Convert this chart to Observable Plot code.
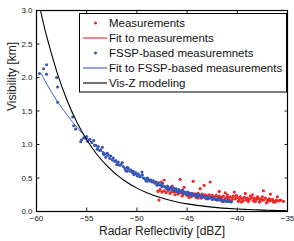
<!DOCTYPE html>
<html>
<head>
<meta charset="utf-8">
<script src="https://cdn.jsdelivr.net/npm/d3@7"></script>
<script src="https://cdn.jsdelivr.net/npm/@observablehq/plot@0.6"></script>
<style>
  html, body { margin: 0; padding: 0; background: #fff; }
  #chart { position: relative; width: 294px; height: 241px; }
</style>
</head>
<body>
<div id="chart"></div>
<script>
// ---- data ----
const xTicks = [-60, -55, -50, -45, -40, -35];
const yTicks = [0, 0.5, 1, 1.5, 2, 2.5, 3];
const legendLabels = ["Measurements", "Fit to measurements", "FSSP-based measuremnets", "Fit to FSSP-based measurements", "Vis-Z modeling"];

// Red: measurements
const redX = [-47.3,-47.6,-45.7,-44.4,-42.7,-43.3,-43.7,-46.5,-45.3,-41.8,-40.3,-37.4,-36.7,-47.8,-39.2,-38.5,-41.2,-36.0,
  -47.9,-47.7,-47.5,-47.3,-47.1,-46.9,-46.7,-46.5,-46.3,-46.1,-45.9,-45.8,-45.6,-45.4,-45.2,-45.1,-44.9,-44.7,-44.5,-44.4,
  -44.2,-44.0,-43.9,-43.7,-43.5,-43.3,-43.2,-43.0,-42.8,-42.6,-42.5,-42.3,-42.1,-41.9,-41.8,-41.6,-41.4,-41.2,-41.0,-40.9,
  -40.7,-40.5,-40.4,-40.2,-40.0,-39.8,-39.7,-39.5,-39.3,-39.1,-39.0,-38.8,-38.6,-38.4,-38.3,-38.1,-37.9,-37.7,-37.6,-37.4,
  -37.2,-37.0,-36.9,-36.7,-36.5,-36.3,-36.1,-35.9,-35.4,-44.8,-43.9,-42.9,-41.5,-40.6,-39.6,-38.9,-37.8,-37.1,-36.4,
  -45.0,-44.6,-44.1,-43.6,-43.1,-42.4,-42.0,-41.3,-40.8,-40.1,-39.4,-38.7,-38.2,-37.5,-36.8,-36.2,-35.7,-46.2,-45.5,-41.0,-39.9,-38.0];
const redY = [0.47,0.44,0.48,0.45,0.44,0.39,0.34,0.38,0.36,0.30,0.29,0.31,0.26,0.17,0.27,0.25,0.28,0.22,
  0.30,0.33,0.29,0.31,0.28,0.32,0.27,0.30,0.29,0.31,0.26,0.29,0.28,0.25,0.29,0.26,0.28,0.25,0.27,0.24,
  0.26,0.23,0.27,0.24,0.26,0.22,0.25,0.23,0.25,0.21,0.24,0.22,0.24,0.20,0.23,0.21,0.23,0.19,0.22,0.20,
  0.22,0.18,0.23,0.19,0.21,0.17,0.22,0.19,0.21,0.17,0.20,0.18,0.21,0.16,0.20,0.18,0.20,0.16,0.19,0.17,
  0.20,0.15,0.18,0.16,0.18,0.15,0.17,0.16,0.15,0.21,0.20,0.19,0.15,0.16,0.14,0.15,0.14,0.13,0.14,
  0.24,0.22,0.21,0.20,0.19,0.19,0.18,0.17,0.17,0.24,0.16,0.23,0.15,0.22,0.19,0.14,0.17,0.25,0.23,0.25,0.15,0.22];

// Red: fit to measurements
const redFitX = [-48, -46, -44, -42, -40, -38, -36, -35.4];
const redFitY = [0.31, 0.28, 0.25, 0.22, 0.20, 0.18, 0.16, 0.155];

// Blue: FSSP-based measurements
const blueX = [-59.7,-59.3,-59.0,-59.0,-58.0,-57.9,-57.9,-56.4,-56.3,-56.1,-55.6,-55.5,-55.3,-55.1,-55.0,-54.9,-54.7,-54.5,-54.3,-54.2,
  -54.1,-53.95,-53.85,-53.7,-53.6,-53.45,-53.35,-53.2,-53.1,-52.95,-52.85,-52.7,-52.6,-52.45,-52.35,-52.2,
  -52.1,-51.95,-51.85,-51.7,-51.6,-51.45,-51.35,-51.2,-51.1,-50.95,-50.85,-50.7,-50.6,-50.45,-50.35,-50.2,
  -50.1,-49.95,-49.85,-49.7,-49.5,-49.6,-49.45,-49.35,-49.2,-49.1,-48.95,-48.85,-48.7,-48.6,-48.45,-48.35,-48.2,
  -48.1,-47.95,-47.85,-47.7,-47.6,-47.45,-47.35,-47.2,-47.1,-46.95,-46.85,-46.7,-46.6,-46.45,-46.35,-46.2,
  -46.1,-45.95,-45.85,-45.7,-45.6,-45.45,-45.35,-45.2,-45.1,-44.95,-44.85,-44.7,-44.6,-44.45,-44.35,-44.2,
  -44.1,-43.95,-43.85,-43.7,-43.6,-43.45,-43.35,-43.2,-43.1,-42.95,-42.85,-42.7,-42.6,-42.45,-42.35,-42.2,
  -42.1,-41.95,-41.85,-41.7,-41.6,-41.45,-41.35,-41.2,-41.1,-40.95,-40.8,-40.6,
  -53.3,-52.0,-51.0,-50.3,-49.0,-48.0,-47.0,-46.0,-45.0,-44.0,-43.0,-42.0,-41.4,
  -47.5,-46.8,-46.3,-45.8,-45.4,-44.9,-44.5,-44.0,-43.5,-43.0,-42.5,-41.9,-41.3,-40.9];
const blueY = [2.06,2.13,2.19,2.05,2.00,1.86,1.63,1.41,1.28,1.23,1.04,1.07,1.10,1.09,1.12,1.05,1.08,1.03,1.06,0.99,
  0.99,0.93,0.97,0.91,0.92,0.96,0.88,0.86,0.81,0.87,0.84,0.79,0.83,0.77,0.80,0.75,
  0.76,0.70,0.74,0.69,0.70,0.73,0.67,0.64,0.61,0.66,0.64,0.60,0.62,0.58,0.60,0.56,
  0.58,0.53,0.56,0.52,0.59,0.53,0.55,0.50,0.49,0.46,0.50,0.48,0.45,0.47,0.44,0.46,0.42,
  0.44,0.40,0.43,0.39,0.40,0.42,0.38,0.37,0.35,0.38,0.36,0.34,0.36,0.33,0.35,0.32,
  0.34,0.30,0.33,0.30,0.31,0.32,0.29,0.28,0.27,0.29,0.28,0.26,0.27,0.25,0.26,0.24,
  0.26,0.23,0.25,0.23,0.23,0.24,0.22,0.21,0.20,0.22,0.21,0.20,0.21,0.19,0.20,0.18,
  0.19,0.17,0.19,0.17,0.18,0.17,0.16,0.16,0.15,0.17,0.15,0.14,
  0.85,0.70,0.60,0.55,0.45,0.39,0.34,0.29,0.26,0.22,0.19,0.17,0.15,
  0.37,0.33,0.31,0.29,0.27,0.25,0.24,0.22,0.21,0.20,0.18,0.18,0.16,0.15];

// Blue: fit to FSSP-based measurements
const blueFitX = [-59.5,-59,-58,-57,-56,-55,-54,-53,-52,-51,-50,-49,-48,-47,-46,-45,-44,-43,-42,-41,-40.5];
const blueFitY = [2.05,1.91,1.66,1.45,1.26,1.10,0.96,0.835,0.727,0.633,0.55,0.48,0.418,0.364,0.317,0.276,0.240,0.209,0.182,0.159,0.148];

// Black: Vis-Z modeling
const visZX = [-59.6,-59,-58,-57,-56,-55,-54,-53,-52,-51,-50,-49,-48,-47,-46,-45,-44,-43,-42,-41,-40,-39,-38,-37,-36,-35];
const visZY = [3.0,2.62,2.10,1.675,1.34,1.07,0.855,0.684,0.547,0.437,0.349,0.279,0.223,0.178,0.142,0.114,0.091,0.073,0.058,0.046,0.037,0.030,0.024,0.019,0.015,0.012];

// ---- build tables ----
const red = redX.map((x, i) => ({x, y: redY[i]}));
const redFit = redFitX.map((x, i) => ({x, y: redFitY[i]}));
const blue = blueX.map((x, i) => ({x, y: blueY[i]}));
const blueFit = blueFitX.map((x, i) => ({x, y: blueFitY[i]}));
const visZ = visZX.map((x, i) => ({x, y: visZY[i]}));

const RED = "#ee2a2a", BLUE = "#3553ad", BLUELINE = "#3a5fc8", REDLINE = "#e8262a";
const FONT = "'Liberation Sans', Arial, Helvetica, sans-serif";

const plot = Plot.plot({
  width: 294,
  height: 241,
  marginLeft: 36,
  marginRight: 7,
  marginTop: 10,
  marginBottom: 30,
  style: {fontFamily: FONT, fontSize: "8px", color: "#222", background: "#fff"},
  x: {domain: [-60, -35], ticks: xTicks},
  y: {domain: [0, 3], ticks: yTicks},
  marks: [
    Plot.dot(red, {x: "x", y: "y", r: 1.6, fill: RED, stroke: "none"}),
    Plot.line(redFit, {x: "x", y: "y", stroke: REDLINE, strokeWidth: 1, curve: "natural"}),
    Plot.dot(blue, {x: "x", y: "y", r: 1.5, fill: BLUE, stroke: "none"}),
    Plot.line(blueFit, {x: "x", y: "y", stroke: BLUELINE, strokeWidth: 1, curve: "natural"}),
    Plot.line(visZ, {x: "x", y: "y", stroke: "#000", strokeWidth: 1.1, curve: "natural", clip: true}),
    // labels
    Plot.axisX({ticks: xTicks, tickSize: 0, tickPadding: 4, label: null, fontSize: 8}),
    Plot.axisY({ticks: yTicks, tickSize: 0, tickPadding: 4, label: null, fontSize: 8}),
    // inward ticks on all four sides
    Plot.axisX({ticks: xTicks, anchor: "bottom", tickSize: 3.5, dy: -3.5, tickFormat: () => "", label: null}),
    Plot.axisX({ticks: xTicks, anchor: "top", tickSize: 3.5, dy: 3.5, tickFormat: () => "", label: null}),
    Plot.axisY({ticks: yTicks, anchor: "left", tickSize: 3.5, dx: 3.5, tickFormat: () => "", label: null}),
    Plot.axisY({ticks: yTicks, anchor: "right", tickSize: 3.5, dx: -3.5, tickFormat: () => "", label: null}),
    Plot.frame({stroke: "#000", strokeWidth: 1.2}),
    Plot.text(["Radar Reflectivity [dBZ]"], {frameAnchor: "bottom", dy: 20, lineAnchor: "middle", text: d => d, fontSize: 12, fill: "#222"}),
    Plot.text(["Visibility [km]"], {frameAnchor: "left", dx: -24, rotate: -90, lineAnchor: "middle", text: d => d, fontSize: 12, fill: "#222"})
  ]
});

document.getElementById("chart").appendChild(plot);

// ---- legend drawn in the plot's SVG ----
const svg = d3.select(plot);
const lg = svg.append("g").attr("font-family", FONT).attr("font-size", 11.5).attr("text-anchor", "start");
lg.append("rect").attr("x", 79.5).attr("y", 13.5).attr("width", 207).attr("height", 78.5)
  .attr("fill", "#fff").attr("stroke", "#000").attr("stroke-width", 1);
const entries = [
  {type: "dot", color: RED},
  {type: "line", color: REDLINE},
  {type: "dot", color: BLUE},
  {type: "line", color: BLUELINE},
  {type: "line", color: "#000"}
];
entries.forEach((e, i) => {
  const cy = 23 + i * 15;
  if (e.type === "dot") {
    lg.append("circle").attr("cx", 95.5).attr("cy", cy).attr("r", 1.5).attr("fill", e.color);
  } else {
    lg.append("line").attr("x1", 83).attr("x2", 107).attr("y1", cy).attr("y2", cy)
      .attr("stroke", e.color).attr("stroke-width", 1.1);
  }
  lg.append("text").attr("x", 109).attr("y", cy).attr("dy", "0.36em").attr("text-anchor", "start").attr("fill", "#111").text(legendLabels[i]);
});
</script>
</body>
</html>
